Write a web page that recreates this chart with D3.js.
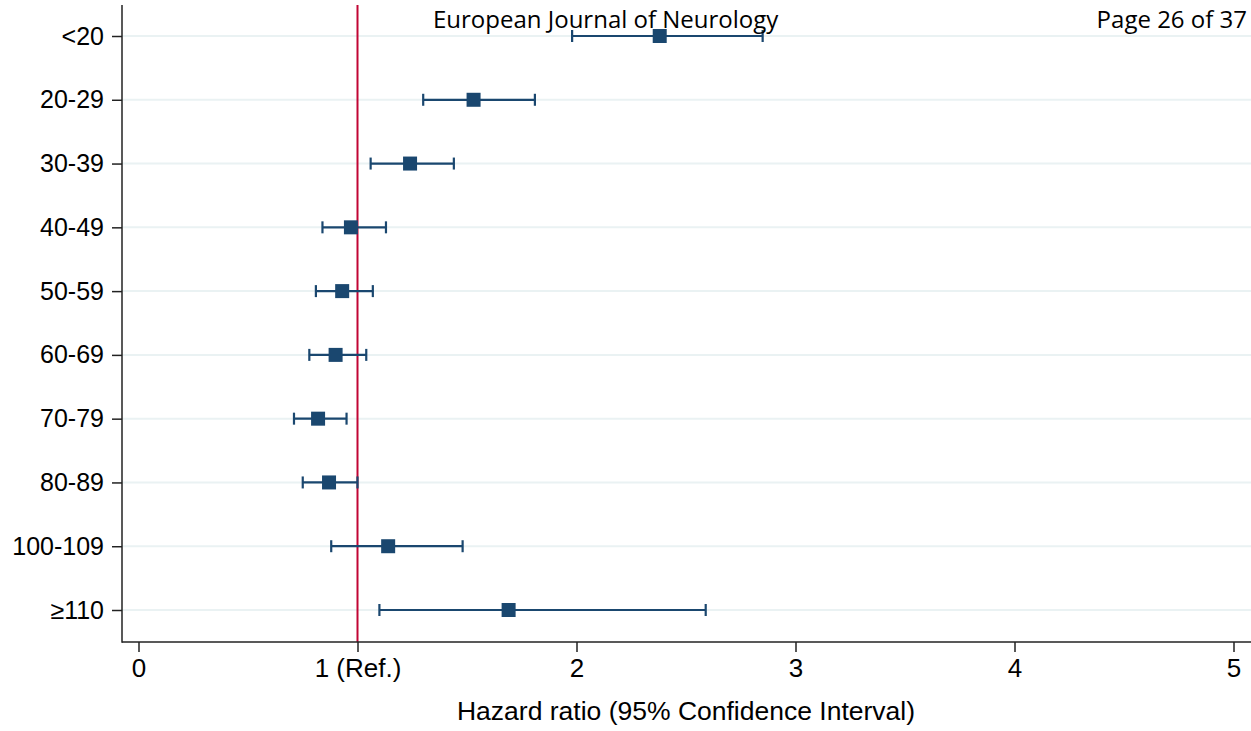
<!DOCTYPE html>
<html>
<head>
<meta charset="utf-8">
<script src="https://cdn.jsdelivr.net/npm/d3@7"></script>
<style>
  body { margin: 0; background: #fff; overflow: hidden; }
  text { font-family: "Liberation Sans", Arial, sans-serif; fill: #000; }
</style>
</head>
<body>
<div id="chart"></div>
<script>
const groups = ['<20', '20-29', '30-39', '40-49', '50-59', '60-69', '70-79', '80-89', '100-109', '≥110'];
const hr = [2.38, 1.53, 1.24, 0.97, 0.93, 0.90, 0.82, 0.87, 1.14, 1.69];
const lower = [1.98, 1.30, 1.06, 0.84, 0.81, 0.78, 0.71, 0.75, 0.88, 1.10];
const upper = [2.85, 1.81, 1.44, 1.13, 1.07, 1.04, 0.95, 1.00, 1.48, 2.59];
const xTicks = [0, 1, 2, 3, 4, 5];
const xTickLabels = ['0', '1 (Ref.)', '2', '3', '4', '5'];

let w = 1251;
let h = 731;
let navy = '#1a476f';

let svg = d3.select('#chart').
append('svg').
attr('width', w).
attr('height', h);

let xScale = d3.scaleLinear().
domain([0, 5]).
range([138.5, 1233.5]);

let yScale = d3.scalePoint().
domain(groups).
range([36, 610]);

let plotLeft = 122;
let plotBottom = 642;
let plotTop = 5;

// grid lines
svg.append('g').
selectAll('line').
data(groups).
enter().
append('line').
attr('x1', plotLeft).
attr('x2', w).
attr('y1', d => yScale(d)).
attr('y2', d => yScale(d)).
attr('stroke', '#eaf2f3').
attr('stroke-width', 2);

// reference line
svg.append('line').
attr('x1', xScale(1)).
attr('x2', xScale(1)).
attr('y1', plotTop).
attr('y2', plotBottom).
attr('stroke', '#c10534').
attr('stroke-width', 2);

// y axis
let yAxis = d3.axisLeft(yScale).tickSize(10).tickPadding(8);
let gy = svg.append('g').
attr('transform', 'translate(' + plotLeft + ',0)').
call(yAxis);
gy.select('.domain').remove();
gy.selectAll('.tick line').attr('stroke', '#222').attr('stroke-width', 1.5);
gy.selectAll('text').
style('font-size', '25px').
style('font-family', '"Liberation Sans", Arial, sans-serif').
attr('fill', '#000');
svg.append('line').
attr('x1', plotLeft).attr('x2', plotLeft).
attr('y1', plotTop).attr('y2', plotBottom + 0.75).
attr('stroke', '#222').attr('stroke-width', 1.5);

// x axis
let xAxis = d3.axisBottom(xScale).
tickValues(xTicks).
tickFormat((d, i) => xTickLabels[i]).
tickSize(10).
tickPadding(7);
let gx = svg.append('g').
attr('transform', 'translate(0,' + plotBottom + ')').
call(xAxis);
gx.select('.domain').remove();
gx.selectAll('.tick line').attr('stroke', '#222').attr('stroke-width', 1.5);
gx.selectAll('text').
style('font-size', '26px').
style('font-family', '"Liberation Sans", Arial, sans-serif').
attr('fill', '#000');
svg.append('line').
attr('x1', plotLeft).attr('x2', w).
attr('y1', plotBottom).attr('y2', plotBottom).
attr('stroke', '#222').attr('stroke-width', 1.5);

svg.append('text').
text('Hazard ratio (95% Confidence Interval)').
attr('x', 686).
attr('y', 720).
attr('text-anchor', 'middle').
style('font-size', '26.5px');

// confidence intervals
let ci = svg.append('g').selectAll('g').
data(groups).
enter().
append('g');

ci.append('line').
attr('x1', (d, i) => xScale(lower[i])).
attr('x2', (d, i) => xScale(upper[i])).
attr('y1', d => yScale(d)).
attr('y2', d => yScale(d)).
attr('stroke', navy).
attr('stroke-width', 2.2);

ci.append('line').
attr('x1', (d, i) => xScale(lower[i])).
attr('x2', (d, i) => xScale(lower[i])).
attr('y1', d => yScale(d) - 6).
attr('y2', d => yScale(d) + 6).
attr('stroke', navy).
attr('stroke-width', 2.2);

ci.append('line').
attr('x1', (d, i) => xScale(upper[i])).
attr('x2', (d, i) => xScale(upper[i])).
attr('y1', d => yScale(d) - 6).
attr('y2', d => yScale(d) + 6).
attr('stroke', navy).
attr('stroke-width', 2.2);

ci.append('rect').
attr('x', (d, i) => xScale(hr[i]) - 7).
attr('y', d => yScale(d) - 7).
attr('width', 14).
attr('height', 14).
attr('fill', navy);

// page header
svg.append('text').
text('European Journal of Neurology').
attr('x', 433).
attr('y', 28).
style('font-family', '"Open Sans", "DejaVu Sans", sans-serif').
style('font-size', '24px');

svg.append('text').
text('Page 26 of 37').
attr('x', 1247).
attr('y', 28).
attr('text-anchor', 'end').
style('font-family', '"Open Sans", "DejaVu Sans", sans-serif').
style('font-size', '24px');
</script>
</body>
</html>
